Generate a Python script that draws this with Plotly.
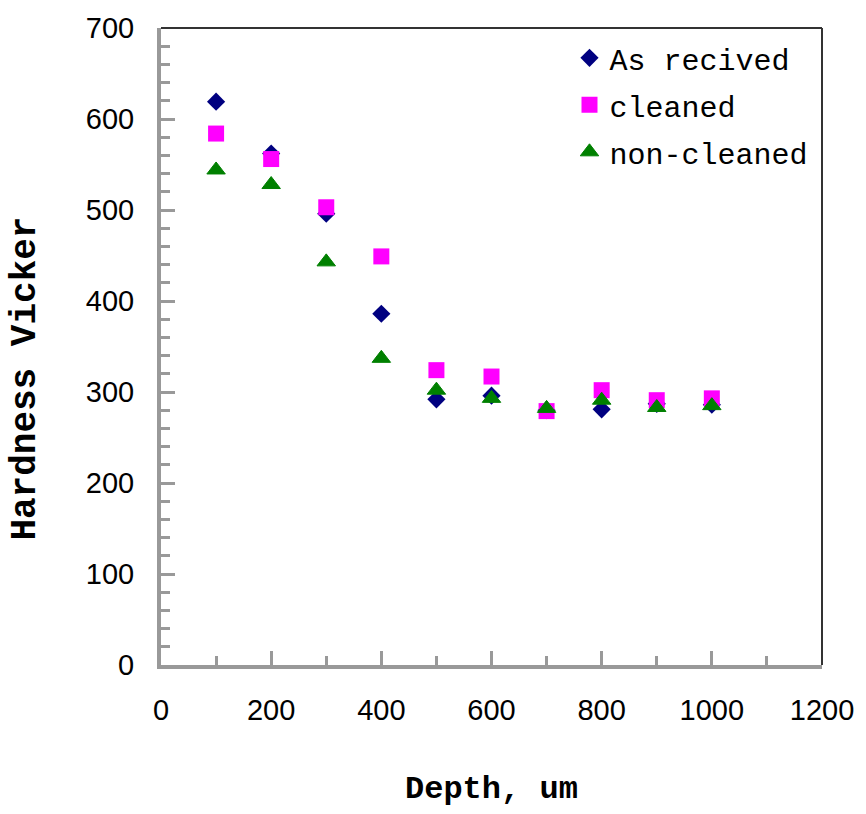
import plotly.graph_objects as go

depth = [100, 200, 300, 400, 500, 600, 700, 800, 900, 1000]
as_received = [619, 562, 496, 386, 292, 296, 280, 281, 287, 286]
cleaned = [584, 556, 503, 449, 324, 317, 279, 302, 291, 293]
non_cleaned = [544, 528, 443, 337, 302, 293, 282, 291, 283, 285]

series_names = ["As recived", "cleaned", "non-cleaned"]
x_ticks = [0, 200, 400, 600, 800, 1000, 1200]
y_ticks = [0, 100, 200, 300, 400, 500, 600, 700]

fig = go.Figure()
fig.add_trace(go.Scatter(x=depth, y=as_received, mode="markers", name=series_names[0],
                         legendgroup="a",
                         marker=dict(symbol="diamond", size=14, color="#000080")))
fig.add_trace(go.Scatter(x=depth, y=cleaned, mode="markers", name=series_names[1],
                         legendgroup="b",
                         marker=dict(symbol="square", size=16, color="#FF00FF")))
fig.add_trace(go.Scatter(x=depth, y=non_cleaned, mode="markers", name=series_names[2],
                         legendgroup="c",
                         marker=dict(symbol="triangle-up", size=16, color="#008000",
                                     line=dict(width=1, color="#008000"))))

tick_font = dict(family="Liberation Sans", size=29, color="#000000")
axis_common = dict(showgrid=False, zeroline=False, showline=True, linecolor="#999999",
                   linewidth=4, ticks="inside", tickcolor="#999999", tickwidth=3,
                   ticklen=14, tickfont=tick_font)

fig.update_xaxes(range=[0, 1200], tickvals=x_ticks, ticktext=[str(v) for v in x_ticks],
                 minor=dict(dtick=100, ticks="inside", ticklen=9, tickwidth=3,
                            tickcolor="#999999"),
                 ticklabelstandoff=16, **axis_common)
fig.update_yaxes(range=[0, 700], tickvals=y_ticks, ticktext=[str(v) for v in y_ticks],
                 minor=dict(dtick=20, ticks="inside", ticklen=9, tickwidth=3,
                            tickcolor="#999999"),
                 ticklabelstandoff=17, **axis_common)

fig.add_shape(type="line", xref="paper", yref="paper", x0=0, x1=1, y0=1, y1=1,
              line=dict(color="#333333", width=2))
fig.add_shape(type="line", xref="paper", yref="paper", x0=1, x1=1, y0=0, y1=1,
              line=dict(color="#333333", width=2))

fig.add_annotation(text="<b>Depth, um</b>", xref="paper", yref="paper", x=0.5,
                   y=(665 - 790) / 641, xanchor="center", yanchor="middle",
                   showarrow=False,
                   font=dict(family="Liberation Mono", size=32, color="#000000"))
fig.add_annotation(text="<b>Hardness Vicker</b>", xref="paper", yref="paper",
                   x=(25 - 161) / 665, y=(665 - 377) / 641, xanchor="center",
                   yanchor="middle", textangle=-90, showarrow=False,
                   font=dict(family="Liberation Mono", size=36, color="#000000"))

fig.update_layout(
    width=866, height=814,
    margin=dict(l=161, r=38, t=24, b=149),
    paper_bgcolor="white", plot_bgcolor="white",
    showlegend=True,
    legend=dict(x=0.618, y=0.994, xanchor="left", yanchor="top",
                font=dict(family="Liberation Mono", size=30, color="#000000"),
                bgcolor="rgba(0,0,0,0)", tracegroupgap=5),
)

fig.write_html("out.html")
